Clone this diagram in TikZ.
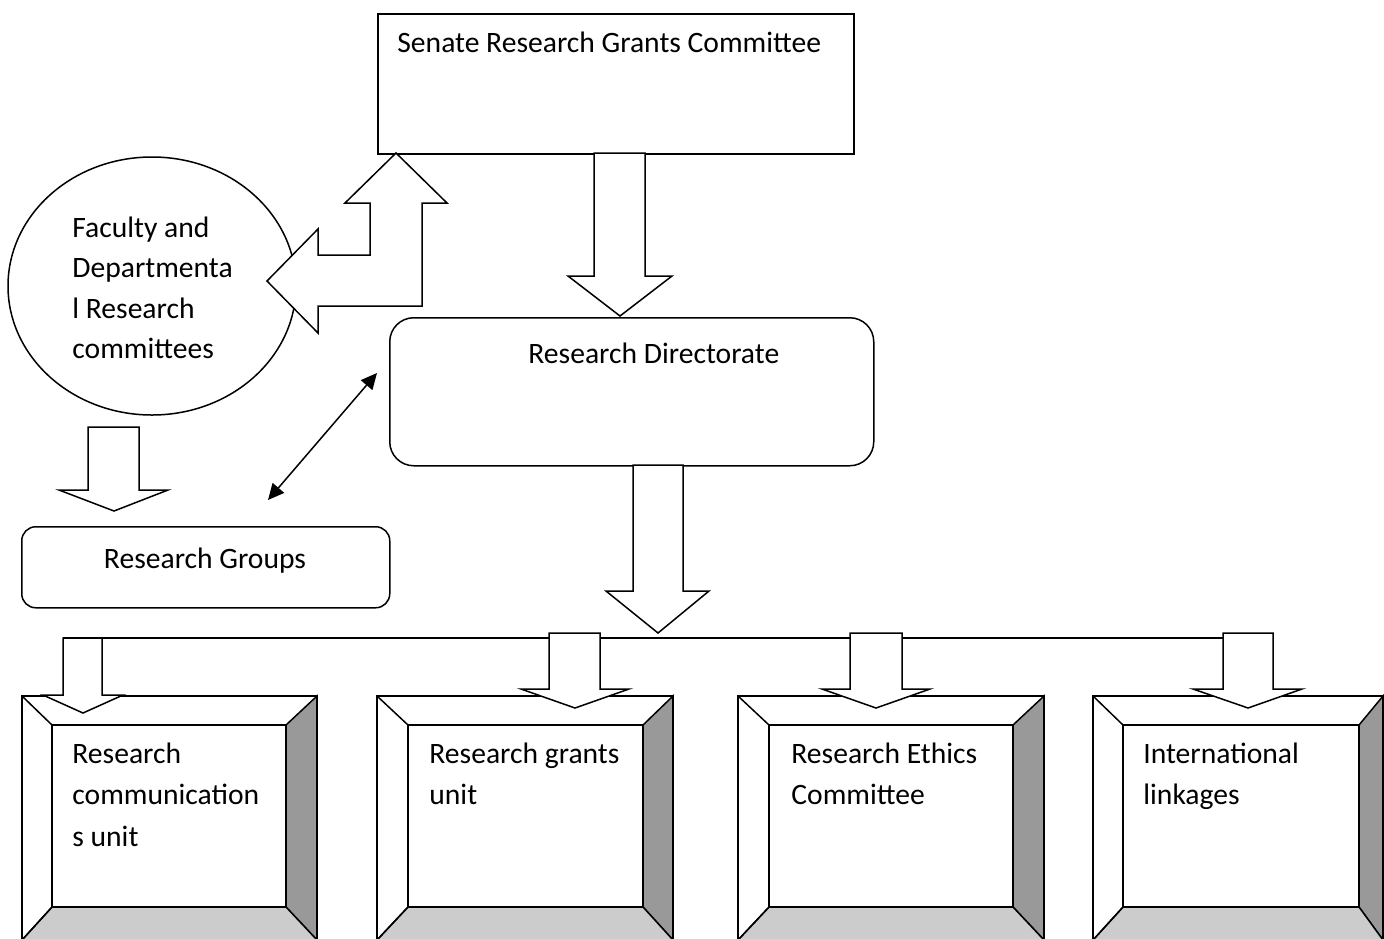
\documentclass[tikz,border=0pt]{standalone}
\usepackage{fontspec}
\setmainfont{Carlito}
\usetikzlibrary{arrows.meta,shapes.geometric}
\definecolor{bevR}{RGB}{153,153,153}
\definecolor{bevB}{RGB}{204,204,204}
\tikzset{
  ln/.style={line width=0.75pt, line join=miter},
  blk/.style={ln, fill=white},
  lbl/.style={inner sep=0pt, anchor=base west, font=\fontsize{14.8pt}{20.75pt}\selectfont},
  dbl/.style={ln, {Triangle[length=8pt,width=7.5pt]}-{Triangle[length=8pt,width=7.5pt]}},
}
\newcommand\linesof[1]{\begin{tabular}[t]{@{}l@{}}#1\end{tabular}}
% #1 X1, #2 X2, #3 I1, #4 I2
\newcommand\bevelbox[4]{%
  \fill[white] (#1,696) rectangle (#2,940);
  \filldraw[ln, fill=bevR] (#2,696)--(#2,940)--(#4,907)--(#4,725)--cycle;
  \filldraw[ln, fill=bevB] (#1,940)--(#2,940)--(#4,907)--(#3,907)--cycle;
  \draw[ln] (#1,696) rectangle (#2,940);
  \draw[ln] (#1,696)--(#3,725) (#1,940)--(#3,907);
  \draw[ln] (#3,725) rectangle (#4,907);
}
\begin{document}
\begin{tikzpicture}[x=0.5pt,y=-0.5pt]
\useasboundingbox (0,0) rectangle (1384,938);
\clip (0,0) rectangle (1384,938);

% Senate Research Grants Committee
\node[draw, ln, anchor=north west, inner sep=0pt, minimum width=238pt, minimum height=70pt] (senate) at (377,13) {};
\node[lbl] (senateT) at (397,52) {Senate Research Grants Committee};

% Research Directorate
\node[draw, ln, rounded corners=12pt, anchor=north west, inner sep=0pt, minimum width=242pt, minimum height=74pt] (rd) at (389,317) {};
\node[lbl] (rdT) at (528,363) {Research Directorate};

% Faculty ellipse
\node[draw, ln, ellipse, inner sep=0pt, minimum width=144pt, minimum height=129pt] (fac) at (152,286) {};
\node[lbl, font=\fontsize{14.8pt}{20.25pt}\selectfont] (facT) at (72,237) {\linesof{Faculty and\\Departmenta\\l Research\\committees}};

% Research Groups
\node[draw, ln, rounded corners=7pt, anchor=north west, inner sep=0pt, minimum width=184pt, minimum height=40.5pt] (rg) at (21,526) {};
\node[lbl, anchor=base] (rgT) at (205,568) {Research Groups};

% bent two-headed block arrow
\filldraw[blk] (396,153)--(447,203)--(422,203)--(422,306)--(318,306)--(318,333)--(267,281)--(318,229)--(318,255)--(370,255)--(370,203)--(345,203)--cycle;

% block arrows
\filldraw[blk] (594,153)--(594,276)--(568,276)--(620,316)--(672,276)--(645,276)--(645,153)--cycle;
\filldraw[blk] (633,465)--(633,591)--(606,591)--(658,633)--(709,591)--(683,591)--(683,465)--cycle;
\filldraw[blk] (88,427)--(88,490)--(59,490)--(114,511)--(168,490)--(139,490)--(139,427)--cycle;

% double-headed connector
\coordinate (da1) at (377,373);
\coordinate (da2) at (268,500);
\draw[dbl] (da1) -- (da2);

% bevel boxes
\bevelbox{22}{317}{52}{286}
\bevelbox{377}{673}{408}{643}
\bevelbox{738}{1044}{769}{1013}
\bevelbox{1093}{1383}{1123}{1359}
\node[lbl] (u1) at (72,763) {\linesof{Research\\communication\\s unit}};
\node[lbl] (u2) at (429,763) {\linesof{Research grants\\unit}};
\node[lbl] (u3) at (791,763) {\linesof{Research Ethics\\Committee}};
\node[lbl] (u4) at (1143,763) {\linesof{International\\linkages}};

% distribution line and small arrows
\coordinate (h1) at (63,638);
\coordinate (h2) at (1223,638);
\draw[ln] (h1) -- (h2);
\filldraw[blk] (63,638)--(63,695)--(43,695)--(83,713)--(123,695)--(102,695)--(102,638)--cycle;
\filldraw[blk] (549,633)--(549,689)--(521,689)--(575,708)--(629,689)--(600,689)--(600,633)--cycle;
\filldraw[blk] (850,633)--(850,689)--(822,689)--(876,708)--(930,689)--(902,689)--(902,633)--cycle;
\filldraw[blk] (1223,633)--(1223,689)--(1193,689)--(1248,708)--(1302,689)--(1273,689)--(1273,633)--cycle;
\end{tikzpicture}
\end{document}
